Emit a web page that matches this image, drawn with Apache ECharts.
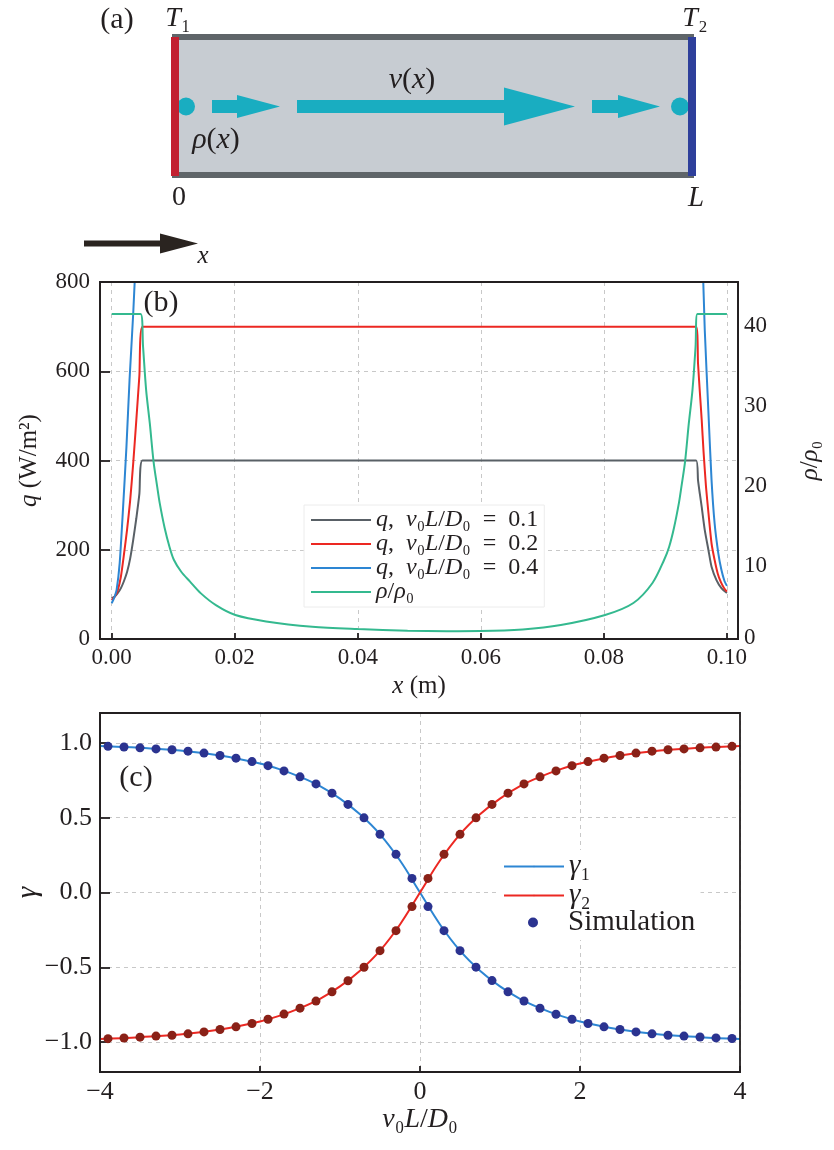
<!DOCTYPE html>
<html><head><meta charset="utf-8">
<script src="https://cdn.jsdelivr.net/npm/echarts@6.0.0/dist/echarts.min.js"></script>
<style>html,body{margin:0;padding:0;background:#fff}#c{width:834px;height:1150px}</style>
</head><body><div id="c"></div>
<script>
// ---------------- Panel (b) data ----------------
const qX_01 = [0, 0.0005, 0.001, 0.0015, 0.002, 0.0025, 0.003, 0.0035, 0.004, 0.0045, 0.005, 0.095, 0.0953, 0.0956, 0.0959, 0.0964, 0.097, 0.0975, 0.0983, 0.0991, 0.1];
const q_01  = [91, 95, 103, 114, 130, 150, 180, 222, 270, 325, 400, 400, 356, 325, 296, 244, 199, 162, 132, 114, 103];

const qX_02 = [0, 0.0005, 0.001, 0.0015, 0.002, 0.0025, 0.003, 0.0035, 0.004, 0.0045, 0.005, 0.095, 0.0953, 0.0956, 0.0959, 0.0962, 0.0966, 0.097, 0.0975, 0.098, 0.0985, 0.099, 0.0995, 0.1];
const q_02  = [87, 95, 110, 140, 190, 245, 310, 394, 490, 590, 700, 700, 618, 553, 491, 420, 341, 282, 214, 177, 147, 128, 115, 106];

const qX_04 = [0, 0.0004, 0.0008, 0.0013, 0.0018, 0.0024, 0.0029, 0.0035, 0.004, 0.0045, 0.005, 0.095, 0.0955, 0.096, 0.0964, 0.097, 0.0975, 0.098, 0.0986, 0.0991, 0.0996, 0.1];
const q_04  = [80, 92, 110, 170, 282, 431, 580, 730, 880, 1040, 1200, 1200, 1040, 870, 692, 506, 356, 259, 192, 155, 130, 119];

const rhoX = [0, 0.0047, 0.0051, 0.0056, 0.0062, 0.0068, 0.0074, 0.0078, 0.0086, 0.0094, 0.0101, 0.0113, 0.0127, 0.0145, 0.017, 0.0201, 0.0251, 0.0326, 0.04, 0.0481, 0.0545, 0.0599, 0.0668, 0.073, 0.0802, 0.0848, 0.0879, 0.0898, 0.0906, 0.0914, 0.0922, 0.0926, 0.0932, 0.0938, 0.0944, 0.0949, 0.0952, 0.1];
const rho  = [40.6, 40.6, 36.5, 31.1, 26.9, 22.2, 19.0, 17.0, 13.9, 11.5, 9.9, 8.4, 7.2, 5.7, 4.2, 3.0, 2.2, 1.54, 1.25, 1.04, 0.98, 1.0, 1.2, 1.75, 3.0, 4.5, 7.0, 9.9, 11.5, 13.9, 17.0, 19.0, 22.2, 26.9, 31.1, 36.5, 40.6, 40.6];

const rhoTicks = [10, 20, 30, 40];

// ---------------- Panel (c) data ----------------
const simX = [-3.9, -3.7, -3.5, -3.3, -3.1, -2.9, -2.7, -2.5, -2.3, -2.1, -1.9, -1.7, -1.5, -1.3, -1.1, -0.9, -0.7, -0.5, -0.3, -0.1,
              0.1, 0.3, 0.5, 0.7, 0.9, 1.1, 1.3, 1.5, 1.7, 1.9, 2.1, 2.3, 2.5, 2.7, 2.9, 3.1, 3.3, 3.5, 3.7, 3.9];
const gamma1Sim = [0.977, 0.973, 0.967, 0.960, 0.954, 0.945, 0.932, 0.916, 0.898, 0.875, 0.848, 0.813, 0.773, 0.726, 0.664, 0.589, 0.499, 0.389, 0.255, 0.094,
                   -0.094, -0.255, -0.389, -0.499, -0.589, -0.664, -0.725, -0.774, -0.814, -0.847, -0.876, -0.898, -0.916, -0.932, -0.945, -0.954, -0.960, -0.966, -0.972, -0.976];
const gamma2Sim = [-0.977, -0.973, -0.967, -0.960, -0.954, -0.945, -0.932, -0.916, -0.898, -0.876, -0.847, -0.813, -0.773, -0.726, -0.664, -0.590, -0.500, -0.389, -0.255, -0.094,
                   0.094, 0.255, 0.389, 0.499, 0.589, 0.664, 0.726, 0.773, 0.813, 0.848, 0.875, 0.898, 0.916, 0.932, 0.945, 0.954, 0.960, 0.967, 0.972, 0.977];
const lineX = [-4, -3.5, -3, -2.5, -2, -1.75, -1.5, -1.25, -1, -0.75, -0.5, -0.25, 0, 0.25, 0.5, 0.75, 1, 1.25, 1.5, 1.75, 2, 2.5, 3, 3.5, 4];
const gamma1Line = [0.979, 0.967, 0.950, 0.916, 0.862, 0.823, 0.773, 0.711, 0.628, 0.523, 0.389, 0.214, 0, -0.214, -0.389, -0.523, -0.628, -0.711, -0.773, -0.823, -0.862, -0.916, -0.950, -0.967, -0.979];
const gamma2Line = [-0.979, -0.967, -0.950, -0.916, -0.862, -0.823, -0.773, -0.711, -0.628, -0.523, -0.389, -0.214, 0, 0.214, 0.389, 0.523, 0.628, 0.711, 0.773, 0.823, 0.862, 0.916, 0.950, 0.967, 0.979];

// ---------------- styling ----------------
const FONT = '"Liberation Serif", "DejaVu Serif", serif';
const INK = '#231f20';
const C_GRAY = '#596066', C_RED = '#ec2822', C_BLUE = '#2d86d3', C_GREEN = '#34b98f';
const C_DOT1 = '#2b3390', C_DOT2 = '#8a2117', C_CYAN = '#19adc1';
const pairs = (xs, ys) => xs.map((x, i) => [x, ys[i]]);
const minus = s => String(s).replace('-', '\u2212');
const rich = (size) => ({
  i: { fontStyle: 'italic', fontSize: size, fontFamily: FONT, color: INK },
  r: { fontSize: size, fontFamily: FONT, color: INK }
});
const axisLineStyle = { color: INK, width: 1.8 };
const splitDash = { show: true, lineStyle: { color: '#c8c8c8', type: [4, 4], width: 1 } };
const SP = '\u2002';

const legendNames = {
  g1: '{i|q},' + SP + '{i|v}\u2080{i|L}/{i|D}\u2080' + SP + '=' + SP + '0.1',
  g2: '{i|q},' + SP + '{i|v}\u2080{i|L}/{i|D}\u2080' + SP + '=' + SP + '0.2',
  g4: '{i|q},' + SP + '{i|v}\u2080{i|L}/{i|D}\u2080' + SP + '=' + SP + '0.4',
  rho: '{i|ρ}/{i|ρ}\u2080',
  'γ1': '{i|γ}\u2081', 'γ2': '{i|γ}\u2082', 'Simulation': 'Simulation'
};

function arrow(x0, xh, x1, cy, sh, hh) {
  return [[x0, cy - sh], [xh, cy - sh], [xh, cy - hh], [x1, cy], [xh, cy + hh], [xh, cy + sh], [x0, cy + sh]];
}
function txt(x, y, text, size) {
  return {
    type: 'text', x: x, y: y, z: 100,
    style: { text: text, fontSize: size, fontFamily: FONT, fill: INK,
      textAlign: 'center', textVerticalAlign: 'middle', rich: rich(size) }
  };
}
function frame(x, y, w, h) {
  return { type: 'rect', z: 60, silent: true, shape: { x: x, y: y, width: w, height: h },
    style: { fill: 'none', stroke: INK, lineWidth: 1.8 } };
}

const chart = echarts.init(document.getElementById('c'), null, { renderer: 'canvas' });
const option = {
  backgroundColor: '#fff',
  animation: false,
  grid: [
    { left: 100, right: 96, top: 282, bottom: 511, containLabel: false, outerBoundsMode: 'none' },
    { left: 100, right: 94, top: 713, bottom: 78, containLabel: false, outerBoundsMode: 'none' }
  ],
  xAxis: [
    { gridIndex: 0, type: 'value', min: -0.0019, max: 0.1018, splitNumber: 5,
      axisLine: { onZero: false, lineStyle: axisLineStyle }, axisTick: { inside: true, length: 6, lineStyle: axisLineStyle },
      axisLabel: { formatter: v => v.toFixed(2), fontSize: 23, fontFamily: FONT, color: INK, margin: 7, showMinLabel: false, showMaxLabel: false },
      splitLine: splitDash,
      name: '{i|x} (m)', nameLocation: 'middle', nameGap: 35,
      nameTextStyle: { fontSize: 25, fontFamily: FONT, color: INK, rich: rich(25) } },
    { gridIndex: 1, type: 'value', min: -4, max: 4, interval: 2,
      axisLine: { onZero: false, lineStyle: axisLineStyle }, axisTick: { inside: true, length: 6, lineStyle: axisLineStyle },
      axisLabel: { formatter: v => minus(v), fontSize: 26, fontFamily: FONT, color: INK, margin: 7 },
      splitLine: splitDash,
      name: '{i|v}\u2080{i|L}/{i|D}\u2080', nameLocation: 'middle', nameGap: 34,
      nameTextStyle: { fontSize: 28, fontFamily: FONT, color: INK, rich: rich(28) } }
  ],
  yAxis: [
    { gridIndex: 0, type: 'value', min: 0, max: 800, interval: 200,
      axisLine: { onZero: false, lineStyle: axisLineStyle }, axisTick: { inside: true, length: 10, lineStyle: axisLineStyle },
      axisLabel: { fontSize: 23, fontFamily: FONT, color: INK, margin: 10 },
      splitLine: splitDash,
      name: '{i|q} (W/m²)', nameLocation: 'middle', nameRotate: 90, nameGap: 58,
      nameTextStyle: { fontSize: 25, fontFamily: FONT, color: INK, rich: rich(25) } },
    { gridIndex: 0, type: 'value', position: 'right', min: 0, max: 44.6, splitNumber: 5,
      axisLine: { show: true, onZero: false, lineStyle: axisLineStyle }, axisTick: { show: false },
      axisLabel: { customValues: rhoTicks, fontSize: 23, fontFamily: FONT, color: INK, margin: 6, verticalAlign: 'top', lineHeight: 14 },
      splitLine: { show: false },
      name: '{i|ρ}/{i|ρ}\u2080', nameLocation: 'middle', nameRotate: 90, nameGap: 60,
      nameTextStyle: { fontSize: 25, fontFamily: FONT, color: INK, rich: rich(25) } },
    { gridIndex: 1, type: 'value', min: -1.2, max: 1.2, splitNumber: 5,
      axisLine: { onZero: false, lineStyle: axisLineStyle }, axisTick: { inside: true, length: 10, lineStyle: axisLineStyle },
      axisLabel: { formatter: v => minus(v.toFixed(1)), fontSize: 26, fontFamily: FONT, color: INK, margin: 8, showMinLabel: false, showMaxLabel: false },
      splitLine: splitDash,
      name: '{i|γ}', nameLocation: 'middle', nameRotate: 90, nameGap: 57, nameMoveOverlap: false,
      nameTextStyle: { fontSize: 29, fontFamily: FONT, color: INK, rich: rich(29) } },
    { gridIndex: 0, type: 'value', position: 'right', min: 0, max: 44.6,
      axisLine: { show: false }, axisTick: { show: false }, splitLine: { show: false },
      axisLabel: { customValues: [0], fontSize: 23, fontFamily: FONT, color: INK, margin: 6, verticalAlign: 'bottom', lineHeight: 3 } }
  ],
  legend: [
    { data: ['g1', 'g2', 'g4', 'rho'], orient: 'vertical', left: 304, top: 505,
      itemWidth: 60, itemHeight: 2, itemGap: 0, padding: [3, 6, 3, 6],
      backgroundColor: '#fff', borderColor: '#ececec', borderWidth: 1, selectedMode: false,
      formatter: n => legendNames[n],
      textStyle: { fontSize: 24, lineHeight: 23, fontFamily: FONT, color: INK, rich: rich(24) } },
    { data: ['γ1', 'γ2'], orient: 'vertical', left: 497, top: 850,
      itemWidth: 60, itemHeight: 2, itemGap: 0, padding: [2, 110, 0, 6],
      backgroundColor: '#fff', selectedMode: false,
      formatter: n => legendNames[n],
      textStyle: { fontSize: 29, lineHeight: 28, fontFamily: FONT, color: INK, rich: rich(29) } },
    { data: [{ name: 'Simulation', icon: 'circle' }], orient: 'vertical', left: 522, top: 908,
      itemWidth: 60, itemHeight: 10, itemGap: 0, padding: [0, 6, 3, 6],
      backgroundColor: '#fff', selectedMode: false,
      formatter: n => legendNames[n],
      textStyle: { fontSize: 29, lineHeight: 28, fontFamily: FONT, color: INK, rich: rich(29) } }
  ],
  series: [
    { name: 'g1', type: 'line', xAxisIndex: 0, yAxisIndex: 0, data: pairs(qX_01, q_01), symbol: 'none', smooth: 0.2,
      lineStyle: { color: C_GRAY, width: 2 }, itemStyle: { color: C_GRAY } },
    { name: 'g2', type: 'line', xAxisIndex: 0, yAxisIndex: 0, data: pairs(qX_02, q_02), symbol: 'none', smooth: 0.2,
      lineStyle: { color: C_RED, width: 2 }, itemStyle: { color: C_RED } },
    { name: 'g4', type: 'line', xAxisIndex: 0, yAxisIndex: 0, data: pairs(qX_04, q_04), symbol: 'none', smooth: 0.2,
      lineStyle: { color: C_BLUE, width: 2 }, itemStyle: { color: C_BLUE } },
    { name: 'rho', type: 'line', xAxisIndex: 0, yAxisIndex: 1, data: pairs(rhoX, rho), symbol: 'none', smooth: 0.3,
      lineStyle: { color: C_GREEN, width: 2 }, itemStyle: { color: C_GREEN } },
    { name: 'γ1', type: 'line', xAxisIndex: 1, yAxisIndex: 2, data: pairs(lineX, gamma1Line), symbol: 'none', smooth: 0.4,
      lineStyle: { color: C_BLUE, width: 2 }, itemStyle: { color: C_BLUE } },
    { name: 'γ2', type: 'line', xAxisIndex: 1, yAxisIndex: 2, data: pairs(lineX, gamma2Line), symbol: 'none', smooth: 0.4,
      lineStyle: { color: C_RED, width: 2 }, itemStyle: { color: C_RED } },
    { name: 'Simulation', type: 'scatter', xAxisIndex: 1, yAxisIndex: 2, data: pairs(simX, gamma1Sim), symbolSize: 9,
      itemStyle: { color: C_DOT1, opacity: 1 }, z: 5 },
    { name: 'sim2', type: 'scatter', xAxisIndex: 1, yAxisIndex: 2, data: pairs(simX, gamma2Sim), symbolSize: 9,
      itemStyle: { color: C_DOT2, opacity: 1 }, z: 5 }
  ],
  graphic: [
    frame(100, 282, 638, 357),
    frame(100, 713, 640, 359),
    { type: 'rect', shape: { x: 172, y: 39, width: 522, height: 134 }, style: { fill: '#c7ccd2' } },
    { type: 'rect', shape: { x: 172, y: 34, width: 522, height: 6 }, style: { fill: '#5f6569' } },
    { type: 'rect', shape: { x: 172, y: 172, width: 522, height: 6 }, style: { fill: '#5f6569' } },
    { type: 'circle', shape: { cx: 186, cy: 106.5, r: 9 }, style: { fill: C_CYAN } },
    { type: 'circle', shape: { cx: 680, cy: 106.5, r: 9 }, style: { fill: C_CYAN } },
    { type: 'rect', shape: { x: 171, y: 37, width: 8, height: 139 }, style: { fill: '#c22030' } },
    { type: 'rect', shape: { x: 688, y: 37, width: 8, height: 139 }, style: { fill: '#2e3f9b' } },
    { type: 'polygon', shape: { points: arrow(212, 237, 280, 106.5, 6.5, 11.5) }, style: { fill: C_CYAN } },
    { type: 'polygon', shape: { points: arrow(297, 504, 575, 106.5, 6.5, 19) }, style: { fill: C_CYAN } },
    { type: 'polygon', shape: { points: arrow(592, 618, 660, 106.5, 6.5, 11.5) }, style: { fill: C_CYAN } },
    { type: 'polygon', shape: { points: arrow(84, 160, 198, 243.5, 3, 10) }, style: { fill: '#2a2420' } },
    txt(117, 20, '(a)', 30),
    txt(178, 19, '{i|T}\u2081', 28),
    txt(695, 19, '{i|T}\u2082', 28),
    txt(412, 80, '{i|v}({i|x})', 30),
    txt(216, 140, '{i|ρ}({i|x})', 30),
    txt(179, 198, '0', 28),
    txt(696, 198, '{i|L}', 29),
    txt(203, 256, '{i|x}', 25),
    txt(161, 303, '(b)', 30),
    txt(136, 778, '(c)', 30)
  ]
};
chart.setOption(option);
</script></body></html>
